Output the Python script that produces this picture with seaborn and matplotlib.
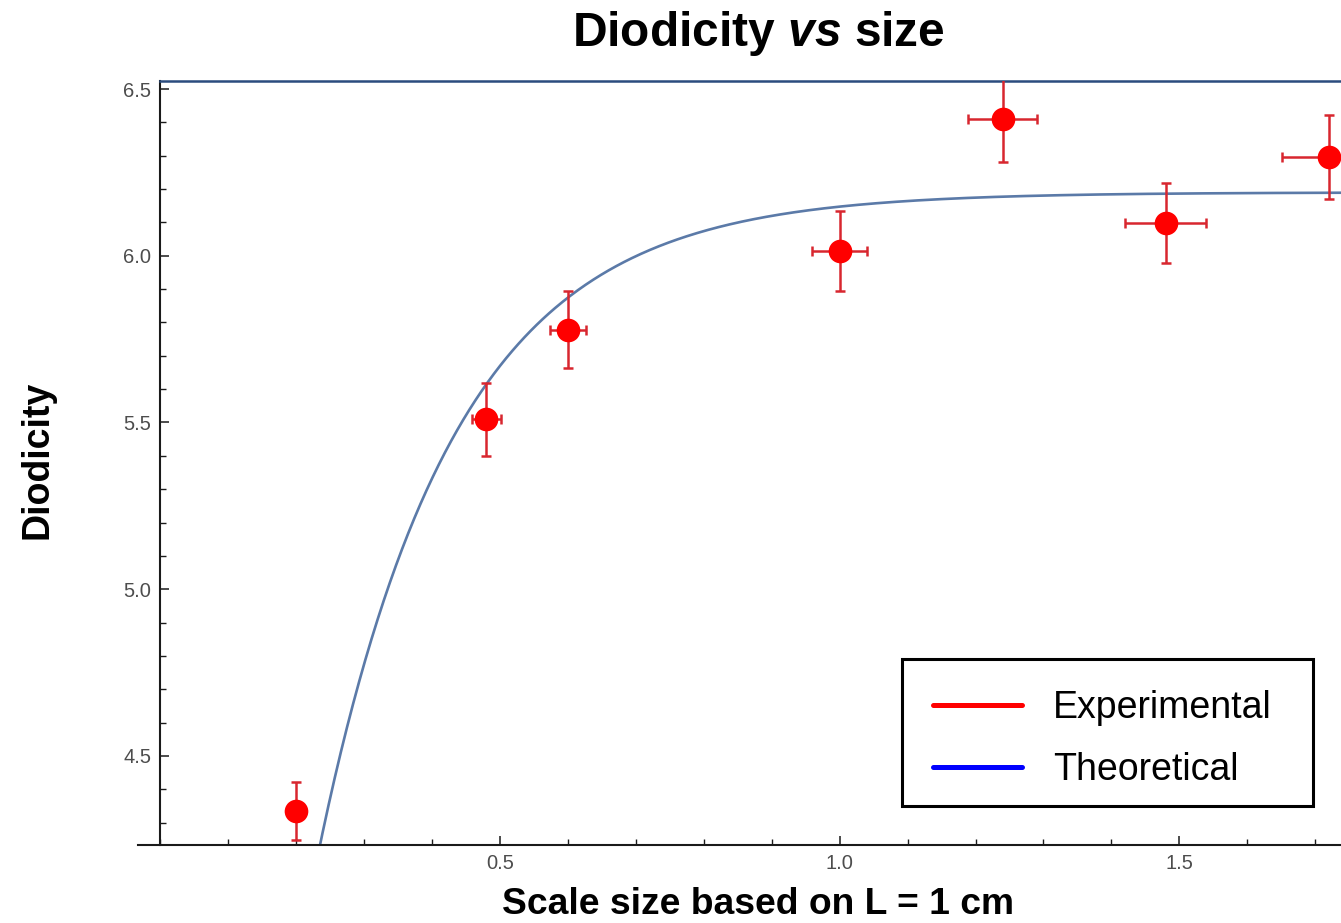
import numpy as np
import pandas as pd
import matplotlib
matplotlib.use("Agg")
import matplotlib.pyplot as plt
from matplotlib.lines import Line2D
from matplotlib.patches import Rectangle
from matplotlib.ticker import MultipleLocator, FixedLocator
import seaborn as sns

# Measured diodicity at each scale size (with uncertainties)
scale_size = [0.20, 0.48, 0.60, 1.00, 1.24, 1.48, 1.72]
diodicity = [4.336, 5.509, 5.778, 6.015, 6.409, 6.098, 6.297]
size_err = [0.008, 0.021, 0.026, 0.040, 0.051, 0.060, 0.069]
diodicity_err = [0.087, 0.110, 0.115, 0.120, 0.127, 0.120, 0.126]

# Theoretical saturation model: D(s) = D_inf - A * exp(-k * s)
d_inf = 6.19
amp = 6.34
rate = 5.0

x_ticks = [0.5, 1.0, 1.5]
y_ticks = [4.5, 5.0, 5.5, 6.0, 6.5]
legend_labels = ["Experimental", "Theoretical"]

sns.set_theme(style="white")
plt.rcParams["font.family"] = ["Liberation Sans", "DejaVu Sans"]
plt.rcParams["text.color"] = "black"
plt.rcParams["mathtext.fontset"] = "custom"
plt.rcParams["mathtext.bfit"] = "Liberation Sans:italic:bold"
plt.rcParams["mathtext.rm"] = "Liberation Sans"

W, H = 1341, 923
fig = plt.figure(figsize=(W / 100, H / 100), dpi=100)
fig.patch.set_facecolor("white")
ax = fig.add_axes([138 / W, (H - 845) / H, (W - 138) / W, (845 - 81) / H])
ax.set_facecolor("white")

# Theoretical curve
s_fine = np.linspace(0.0, 1.8, 800)
theory = pd.DataFrame({"s": s_fine, "d": d_inf - amp * np.exp(-rate * s_fine)})
sns.lineplot(data=theory, x="s", y="d", ax=ax, color="#5b7aa8", lw=1.9, zorder=2)

# Experimental points with error bars
ax.errorbar(scale_size, diodicity, xerr=size_err, yerr=diodicity_err, fmt="none",
            ecolor="#d8262f", elinewidth=1.8, capsize=3.5, capthick=1.8, zorder=3)
exp_df = pd.DataFrame({"s": scale_size, "d": diodicity})
sns.scatterplot(data=exp_df, x="s", y="d", ax=ax, s=290, color="#ff0000",
                linewidth=0, zorder=4)

ax.set_xlim(-0.0328, 1.738)
ax.set_ylim(4.233, 6.524)
ax.set_xlabel("")
ax.set_ylabel("")

# Axes styling
ax.spines["right"].set_visible(False)
ax.spines["left"].set_position(("data", 0.0))
ax.spines["left"].set_color("#1a1a1a")
ax.spines["left"].set_linewidth(1.5)
ax.spines["bottom"].set_color("#1a1a1a")
ax.spines["bottom"].set_linewidth(1.5)
ax.spines["top"].set_color("#2b4c7e")
ax.spines["top"].set_linewidth(1.8)
ax.spines["top"].set_bounds(0.0, 1.738)

ax.xaxis.set_major_locator(FixedLocator(x_ticks))
ax.xaxis.set_minor_locator(MultipleLocator(0.1))
ax.yaxis.set_major_locator(FixedLocator(y_ticks))
ax.yaxis.set_minor_locator(MultipleLocator(0.1))
ax.set_xticklabels([f"{v:.1f}" for v in x_ticks])
ax.set_yticklabels([f"{v:.1f}" for v in y_ticks])
ax.tick_params(which="both", direction="in", bottom=True, left=True, top=False,
               right=False, color="#1a1a1a", labelcolor="#4d4d4d", labelsize=14.5, pad=6.5)
ax.tick_params(which="major", length=6.5, width=1.1)
ax.tick_params(which="minor", length=4.5, width=1.0)

# Titles and axis labels
fig.text(758 / W, 1 - 46 / H, r"Diodicity $\mathbfit{vs}$ size", ha="center",
         va="baseline", fontsize=34.5, fontweight="bold")
fig.text(758 / W, 1 - 914 / H, "Scale size based on L = 1 cm", ha="center",
         va="baseline", fontsize=26.8, fontweight="bold")
fig.text(37 / W, 1 - 460 / H, "Diodicity", rotation=90, ha="center", va="center",
         fontsize=27, fontweight="bold")

# Legend: square black frame with the entries placed inside it
frame = Rectangle((902 / W, (H - 806) / H), 411 / W, 147 / H, transform=fig.transFigure,
                  facecolor="white", edgecolor="black", linewidth=2.2, zorder=4.5,
                  clip_on=False)
ax.add_patch(frame)
handles = [Line2D([], [], color="#ff0000", lw=3.6), Line2D([], [], color="#0000ff", lw=3.6)]
leg = ax.legend(handles, legend_labels, loc="lower left",
                bbox_to_anchor=(909 / W, (H - 812) / H, 400 / W, 147 / H),
                bbox_transform=fig.transFigure, mode="expand",
                borderaxespad=0, fontsize=27, handlelength=2.35, handletextpad=0.85,
                borderpad=0.65, labelspacing=0.68, frameon=False)
leg.set_zorder(6)

fig.savefig("out.png", dpi=100, facecolor="white")
